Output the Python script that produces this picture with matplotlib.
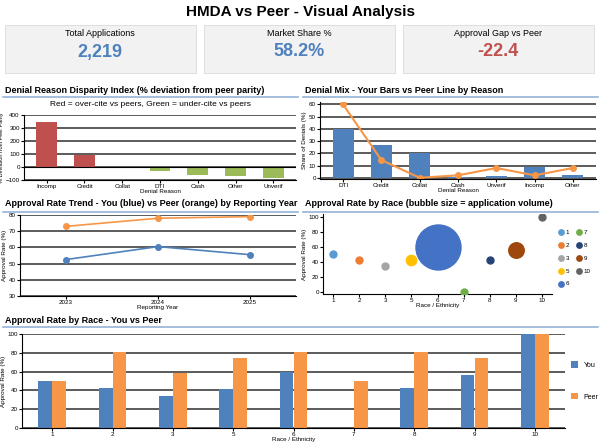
import matplotlib
matplotlib.use("Agg")
import matplotlib.pyplot as plt
from matplotlib.patches import Rectangle
from matplotlib.lines import Line2D

plt.rcParams['font.family'] = ['Liberation Sans', 'DejaVu Sans']

kpi_labels = ["Total Applications", "Market Share %", "Approval Gap vs Peer"]
kpi_values = ["2,219", "58.2%", "-22.4"]
kpi_colors = ["#4F81BD", "#4F81BD", "#C0504D"]

disp_reasons = ["Incomp", "Credit", "Collat", "DTI", "Cash", "Other", "Unverif"]
disp_values = [350, 90, 0, -30, -65, -70, -85]

mix_reasons = ["DTI", "Credit", "Collat", "Cash", "Unverif", "Incomp", "Other"]
mix_you = [40, 27, 20, 1, 1.5, 8.5, 2.5]
mix_peer = [60, 14.5, 0, 2, 8, 2, 8]

years = ["2023", "2024", "2025"]
trend_you = [52.5, 60.5, 55.5]
trend_peer = [73, 78, 79]

races = ["1", "2", "3", "5", "6", "7", "8", "9", "10"]
race_you = [50, 43, 34, 42, 60, 0, 43, 56, 100]
race_peer = [50, 81, 58, 74, 81, 50, 81, 75, 100]
race_volume = [25, 25, 25, 55, 1050, 25, 25, 125, 25]
race_colors = ["#5B9BD5", "#ED7D31", "#A5A5A5", "#FFC000", "#4472C4",
               "#70AD47", "#264478", "#9E480E", "#636363"]

BLUE = "#4F81BD"
ORANGE = "#F79646"
W, H = 600, 448
fig = plt.figure(figsize=(6, 4.48), dpi=100)

def ax_px(x0, y0, x1, y1):
    return fig.add_axes([x0 / W, 1 - y1 / H, (x1 - x0) / W, (y1 - y0) / H])

def ftext(x, y, s, **kw):
    fig.text(x / W, 1 - y / H, s, **kw)

def hline(x0, x1, y, color="#95B3D7", lw=1.2):
    fig.add_artist(Line2D([x0 / W, x1 / W], [1 - y / H, 1 - y / H], color=color, lw=lw))

def style(ax, xlabel, ylabel):
    for s in ["top", "right"]:
        ax.spines[s].set_visible(False)
    ax.grid(axis="y", color="#404040", lw=1.2)
    ax.set_axisbelow(True)
    ax.tick_params(labelsize=4.5, length=2, pad=1)
    ax.set_xlabel(xlabel, fontsize=4.5, labelpad=0)
    ax.set_ylabel(ylabel, fontsize=4.5, labelpad=1)

ftext(300, 12, "HMDA vs Peer - Visual Analysis", ha="center", va="center", fontsize=11, fontweight="bold")

for i, (l, v, c) in enumerate(zip(kpi_labels, kpi_values, kpi_colors)):
    x0 = 5 + i * 199
    fig.add_artist(Rectangle((x0 / W, 1 - 73 / H), 191 / W, 48 / H, facecolor="#F2F2F2", edgecolor="#D9D9D9", lw=0.6))
    ftext(x0 + 95, 33, l, ha="center", va="center", fontsize=6.5)
    ftext(x0 + 95, 52, v, ha="center", va="center", fontsize=13, fontweight="bold", color=c)

# Panel 1
ftext(5, 90, "Denial Reason Disparity Index (% deviation from peer parity)", fontsize=6.5, fontweight="bold", va="center")
hline(3, 298, 97)
ftext(150, 104, "Red = over-cite vs peers, Green = under-cite vs peers", fontsize=6, ha="center", va="center")
ax1 = ax_px(24, 115, 296, 180)
cols = ["#C0504D" if v > 0 else "#9BBB59" for v in disp_values]
ax1.bar(disp_reasons, disp_values, color=cols, width=0.55)
ax1.set_ylim(-100, 400)
ax1.set_yticks([-100, 0, 100, 200, 300, 400])
ax1.axhline(0, color="black", lw=0.8)
style(ax1, "Denial Reason", "% Deviation from Peer Parity")
ax1.yaxis.label.set_size(4)

# Panel 2
ftext(305, 90, "Denial Mix - Your Bars vs Peer Line by Reason", fontsize=6.5, fontweight="bold", va="center")
hline(303, 598, 97)
ax2 = ax_px(320, 102, 596, 179)
ax2.bar(mix_reasons, mix_you, color=BLUE, width=0.55)
ax2.plot(mix_reasons, mix_peer, color=ORANGE, marker="o", ms=4, lw=1.5)
ax2.set_ylim(-1, 62)
ax2.set_yticks([0, 10, 20, 30, 40, 50, 60])
style(ax2, "Denial Reason", "Share of Denials (%)")

# Panel 3
ftext(5, 204, "Approval Rate Trend - You (blue) vs Peer (orange) by Reporting Year", fontsize=6.5, fontweight="bold", va="center")
hline(3, 298, 212)
ax3 = ax_px(20, 215, 296, 296)
ax3.plot(years, trend_you, color=BLUE, marker="o", ms=4, lw=1.2)
ax3.plot(years, trend_peer, color=ORANGE, marker="o", ms=4, lw=1.2)
ax3.set_ylim(30, 80)
ax3.set_xlim(-0.5, 2.5)
style(ax3, "Reporting Year", "Approval Rate (%)")

# Panel 4
ftext(305, 204, "Approval Rate by Race (bubble size = application volume)", fontsize=6.5, fontweight="bold", va="center")
hline(303, 598, 212)
ax4 = ax_px(323, 214, 552, 294)
for i, (r, v, s, c) in enumerate(zip(races, race_you, race_volume, race_colors)):
    ax4.scatter(i, v, s=s, color=c, label=r, zorder=3)
ax4.set_xticks(range(len(races)))
ax4.set_xticklabels(races)
ax4.set_xlim(-0.4, 8.4)
ax4.set_ylim(-3, 104)
ax4.set_yticks([0, 20, 40, 60, 80, 100])
style(ax4, "Race / Ethnicity", "Approval Rate (%)")
ax4.grid(False)
leg = ax4.legend(loc="center left", bbox_to_anchor=(1.0, 0.45), ncol=2, fontsize=4.5,
                 frameon=False, markerscale=1, handletextpad=0.3, columnspacing=1.0,
                 labelspacing=1.2, handlelength=1)
for h in leg.legend_handles:
    h.set_sizes([15])

# Panel 5
ftext(5, 320, "Approval Rate by Race - You vs Peer", fontsize=6.5, fontweight="bold", va="center")
hline(3, 598, 327)
ax5 = ax_px(22, 334, 565, 428)
xs = range(len(races))
ax5.bar([x - 0.115 for x in xs], race_you, width=0.23, color=BLUE, label="You")
ax5.bar([x + 0.115 for x in xs], race_peer, width=0.23, color=ORANGE, label="Peer")
ax5.set_xticks(list(xs))
ax5.set_xticklabels(races)
ax5.set_xlim(-0.5, 8.5)
ax5.set_ylim(0, 100)
style(ax5, "Race / Ethnicity", "Approval Rate (%)")
ax5.legend(loc="center left", bbox_to_anchor=(1.0, 0.5), fontsize=5, frameon=False, labelspacing=3.5,
           handlelength=1, handleheight=1)

fig.savefig("out.png", dpi=100, facecolor="white")
